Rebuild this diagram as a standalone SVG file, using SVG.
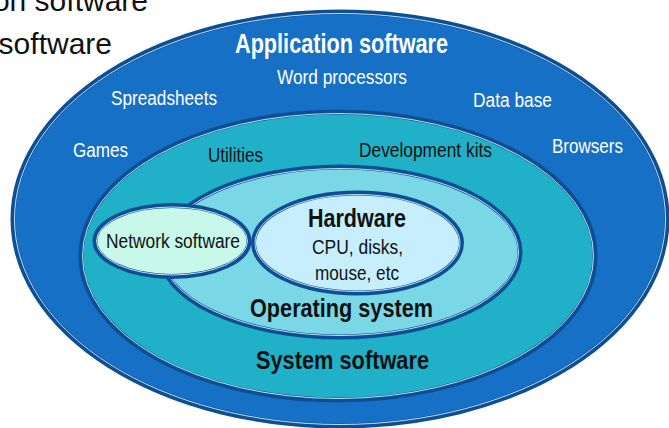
<svg xmlns="http://www.w3.org/2000/svg" width="669" height="428" viewBox="0 0 669 428">
<style>
.ring{stroke:#0C4F95;stroke-width:5}
.gap{fill:none;stroke:#D6ECF8;stroke-width:0.9}
.t{font-family:"Liberation Sans Narrow","Liberation Sans",Arial,sans-serif;}
.w{fill:#FFFFFF;font-size:20px}
.k{fill:#111111;font-size:20px}
.b{font-weight:bold;fill:#111111}
.top{font-family:"Liberation Sans",Arial,sans-serif;font-size:30px;fill:#111111}
</style>
<rect width="669" height="428" fill="#FFFFFF"/>
<text class="top" x="148" y="11" text-anchor="end">on software</text>
<text class="top" x="112" y="54" text-anchor="end">software</text>
<g id="application-software">
<ellipse class="ring" cx="340" cy="219" rx="327" ry="207" fill="#1570C6"/>
<ellipse class="gap" cx="340" cy="219" rx="325.5" ry="205.5"/>
<text class="t b" x="235" y="53" font-size="27" style="fill:#FFFFFF" textLength="213" lengthAdjust="spacingAndGlyphs">Application software</text>
<text class="t w" x="277" y="84" textLength="130" lengthAdjust="spacingAndGlyphs">Word processors</text>
<text class="t w" x="111" y="105" textLength="106" lengthAdjust="spacingAndGlyphs">Spreadsheets</text>
<text class="t w" x="473" y="107" textLength="79" lengthAdjust="spacingAndGlyphs">Data base</text>
<text class="t w" x="73" y="157" textLength="55" lengthAdjust="spacingAndGlyphs">Games</text>
<text class="t w" x="552" y="153" textLength="71" lengthAdjust="spacingAndGlyphs">Browsers</text>
</g>
<g id="system-software">
<ellipse class="ring" cx="338" cy="256" rx="257" ry="144" fill="#20B1C8"/>
<ellipse class="gap" cx="338" cy="256" rx="255.5" ry="142.5"/>
<text class="t k" x="208" y="162" textLength="55" lengthAdjust="spacingAndGlyphs">Utilities</text>
<text class="t k" x="359" y="157" textLength="133" lengthAdjust="spacingAndGlyphs">Development kits</text>
<text class="t b" x="256" y="369" font-size="25" textLength="173" lengthAdjust="spacingAndGlyphs">System software</text>
</g>
<g id="operating-system">
<ellipse class="ring" cx="340" cy="252" rx="180" ry="85" fill="#7AD7E5"/>
<ellipse class="gap" cx="340" cy="252" rx="178.5" ry="83.5"/>
<text class="t b" x="250" y="317" font-size="25" textLength="183" lengthAdjust="spacingAndGlyphs">Operating system</text>
</g>
<g id="hardware">
<ellipse class="ring" cx="357.5" cy="243" rx="104" ry="50" fill="#C6EEFD"/>
<ellipse class="gap" cx="357.5" cy="243" rx="102.5" ry="48.5"/>
<text class="t b" x="308" y="227" font-size="25" textLength="98" lengthAdjust="spacingAndGlyphs">Hardware</text>
<text class="t k" x="312" y="254" textLength="91" lengthAdjust="spacingAndGlyphs">CPU, disks,</text>
<text class="t k" x="315" y="280" textLength="84" lengthAdjust="spacingAndGlyphs">mouse, etc</text>
</g>
<g id="network-software">
<ellipse class="ring" cx="172" cy="241" rx="77" ry="35.5" fill="#C8F8EA"/>
<ellipse class="gap" cx="172" cy="241" rx="75.5" ry="34"/>
<text class="t k" x="106" y="248" textLength="134" lengthAdjust="spacingAndGlyphs">Network software</text>
</g>
<g id="connectors"></g>
</svg>
